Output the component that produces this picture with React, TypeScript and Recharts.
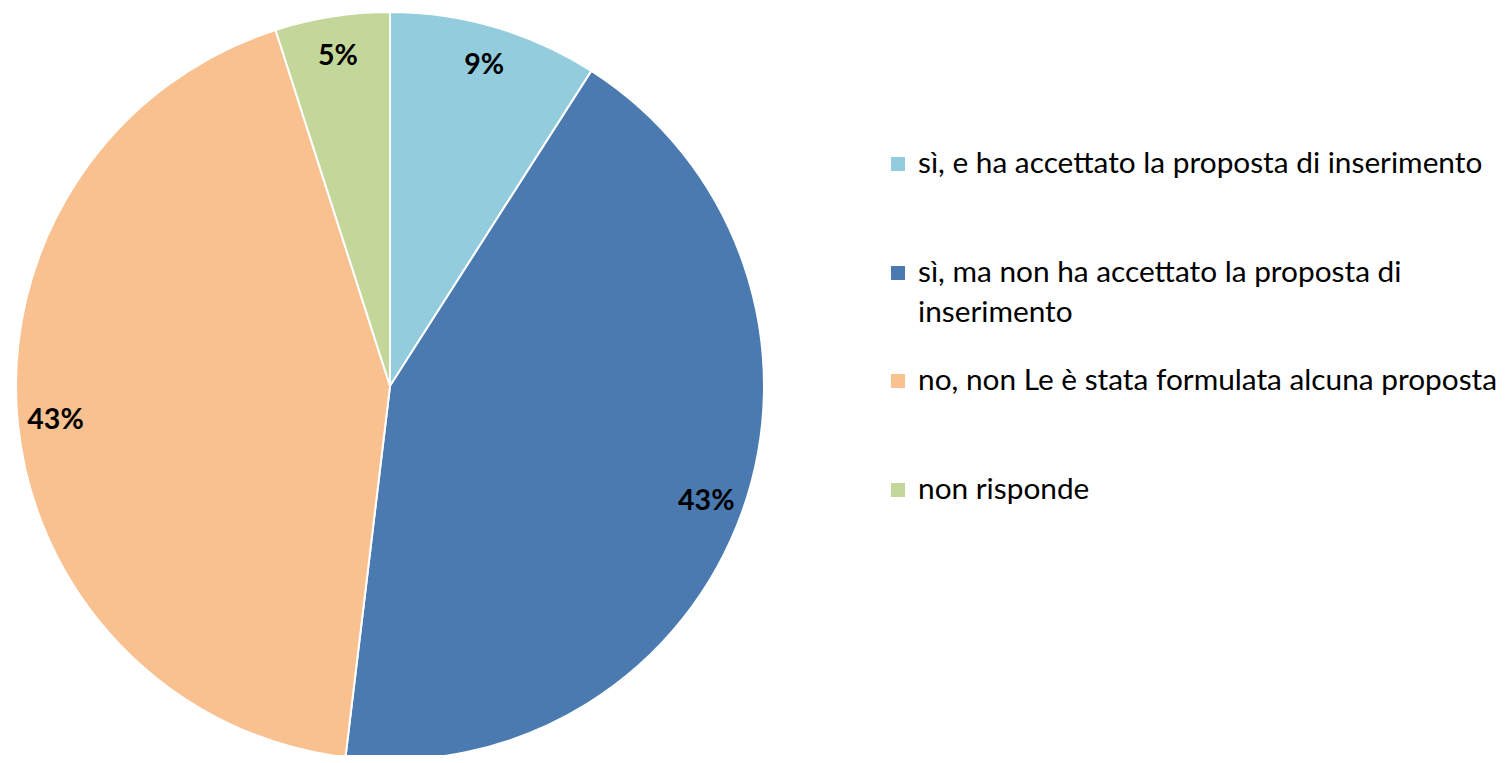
import { PieChart, Pie, Cell, Legend } from 'recharts';

const CATEGORIES = [
  'sì, e ha accettato la proposta di inserimento',
  'sì, ma non ha accettato la proposta di inserimento',
  'no, non Le è stata formulata alcuna proposta',
  'non risponde',
];
const VALUES = [9.05, 42.85, 43.15, 4.95];
const COLORS = ['#93CDDD', '#4A7AB0', '#F9C090', '#C4D79B'];

const data = CATEGORIES.map((name, i) => ({ name, value: VALUES[i] }));

const FONT = 'Lato, "Open Sans", sans-serif';
const RAD = Math.PI / 180;

// percentage sits ~38px in from the rim, like the Excel original
const renderLabel = (props: any) => {
  const { cx, cy, midAngle, outerRadius, percent } = props;
  const r = outerRadius - 38;
  const x = cx + r * Math.cos(-midAngle * RAD);
  const y = cy + r * Math.sin(-midAngle * RAD);
  return (
    <text x={x} y={y} textAnchor="middle" dominantBaseline="central"
      style={{ fontFamily: FONT, fontSize: 28.5, fontWeight: 700, fill: '#000' }}>
      {`${Math.round(percent * 100)}%`}
    </text>
  );
};

const renderLegend = () => (
  <div style={{ position: 'relative', width: 615, height: 420, fontFamily: FONT }}>
    {CATEGORIES.map((name, i) => (
      <div key={name} style={{ position: 'absolute', left: 0, top: i * 108.7 - 1, display: 'flex', alignItems: 'flex-start' }}>
        <span style={{ display: 'inline-block', width: 14, height: 14, background: COLORS[i], marginTop: 15, marginRight: 13, flex: 'none' }} />
        <span style={{ fontSize: 29.8, lineHeight: '40px', color: '#000', width: 590 }}>{name}</span>
      </div>
    ))}
  </div>
);

export default function App() {
  // cancel the default body margin so the chart fills the 1506x763 page
  return (
    <div style={{ margin: -8, width: 1506, height: 763, overflow: 'hidden' }}>
      <PieChart width={1506} height={763} margin={{ top: 0, right: 0, bottom: 0, left: 0 }}>
        <Pie
          data={data}
          dataKey="value"
          nameKey="name"
          cx={390}
          cy={386}
          outerRadius={374}
          startAngle={90}
          endAngle={-270}
          stroke="#fff"
          strokeWidth={2}
          label={renderLabel}
          labelLine={false}
          isAnimationActive={false}
        >
          {data.map((d, i) => <Cell key={d.name} fill={COLORS[i]} />)}
        </Pie>
        <Legend content={renderLegend} wrapperStyle={{ position: 'absolute', left: 891, top: 143, width: 615 }} />
      </PieChart>
    </div>
  );
}
